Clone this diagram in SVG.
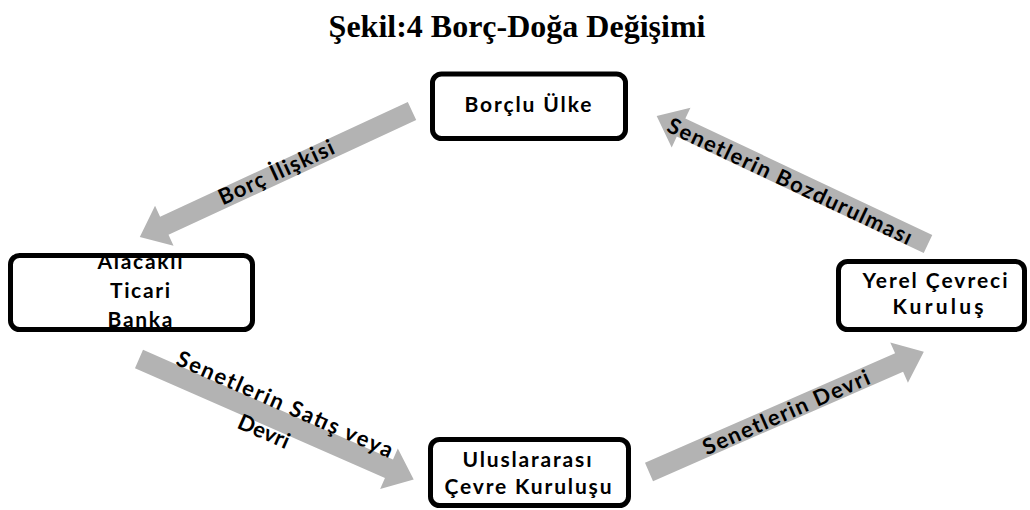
<svg xmlns="http://www.w3.org/2000/svg" width="1030" height="510" viewBox="0 0 1030 510">
  <style>
    .title { font-family: "Liberation Serif", "Times New Roman", serif; font-weight: bold; font-size: 32px; fill: #000; text-anchor: middle; }
    .box { fill: #fff; stroke: #000; stroke-width: 5; }
    .nt { font-family: Lato, "Open Sans", sans-serif; font-weight: bold; font-size: 21px; fill: #000; text-anchor: middle; }
    .arrow { fill: #b3b3b3; }
    .lbl { font-family: Lato, "Open Sans", sans-serif; font-weight: bold; font-size: 22px; fill: #000; text-anchor: middle; }
  </style>
  <defs>
    <!-- block arrow pointing along +x, tail at origin, 300 long -->
    <path id="blockArrow" d="M0,-10 L273,-10 L273,-22 L300,0 L273,22 L273,10 L0,10 Z"/>
    <clipPath id="clipBank"><rect x="13" y="258" width="235" height="69"/></clipPath>
  </defs>

  <rect width="1030" height="510" fill="#fff"/>

  <text class="title" x="517" y="37">Şekil:4 Borç-Doğa Değişimi</text>

  <g id="connectors">
    <g id="edge-borc-iliskisi">
      <use href="#blockArrow" class="arrow" transform="translate(412,111) rotate(155.14)"/>
      <text class="lbl" transform="translate(276,172) rotate(-24.86)" y="8" textLength="125" lengthAdjust="spacing">Borç İlişkisi</text>
    </g>
    <g id="edge-satis">
      <use href="#blockArrow" class="arrow" transform="translate(139,359) rotate(23.7)"/>
      <text class="lbl" transform="translate(285,404) rotate(23.7)" y="8" textLength="234" lengthAdjust="spacing">Senetlerin Satış veya</text>
      <text class="lbl" transform="translate(264,431) rotate(23.7)" y="8" textLength="54" lengthAdjust="spacing">Devri</text>
    </g>
    <g id="edge-devri">
      <use href="#blockArrow" class="arrow" transform="translate(649,472) rotate(-23.64)"/>
      <text class="lbl" transform="translate(786,412) rotate(-23.64)" y="8" textLength="180" lengthAdjust="spacing">Senetlerin Devri</text>
    </g>
    <g id="edge-bozdurulma">
      <use href="#blockArrow" class="arrow" transform="translate(928,244) rotate(205.25)"/>
      <text class="lbl" transform="translate(790,181) rotate(25.25)" y="8" textLength="268" lengthAdjust="spacing">Senetlerin Bozdurulması</text>
    </g>
  </g>

  <g id="node-borclu-ulke">
    <rect class="box" x="432.5" y="74" width="193" height="64.5" rx="9"/>
    <text class="nt" x="528" y="112" textLength="127" lengthAdjust="spacing">Borçlu Ülke</text>
  </g>

  <g id="node-alacakli-banka">
    <rect class="box" x="10.5" y="255.5" width="242" height="74" rx="9"/>
    <g clip-path="url(#clipBank)">
      <text class="nt" x="140" y="269" textLength="85" lengthAdjust="spacing">Alacaklı</text>
      <text class="nt" x="140" y="298" textLength="60" lengthAdjust="spacing">Ticari</text>
      <text class="nt" x="140" y="327" textLength="65" lengthAdjust="spacing">Banka</text>
    </g>
  </g>

  <g id="node-yerel-kurulus">
    <rect class="box" x="838.5" y="261.5" width="186" height="68" rx="9"/>
    <text class="nt" x="935" y="288" textLength="145" lengthAdjust="spacing">Yerel Çevreci</text>
    <text class="nt" x="938" y="314" textLength="91" lengthAdjust="spacing">Kuruluş</text>
  </g>

  <g id="node-uluslararasi">
    <rect class="box" x="430.5" y="439.5" width="198" height="66" rx="9"/>
    <text class="nt" x="527" y="467" textLength="129" lengthAdjust="spacing">Uluslararası</text>
    <text class="nt" x="528" y="494" textLength="167" lengthAdjust="spacing">Çevre Kuruluşu</text>
  </g>
</svg>
